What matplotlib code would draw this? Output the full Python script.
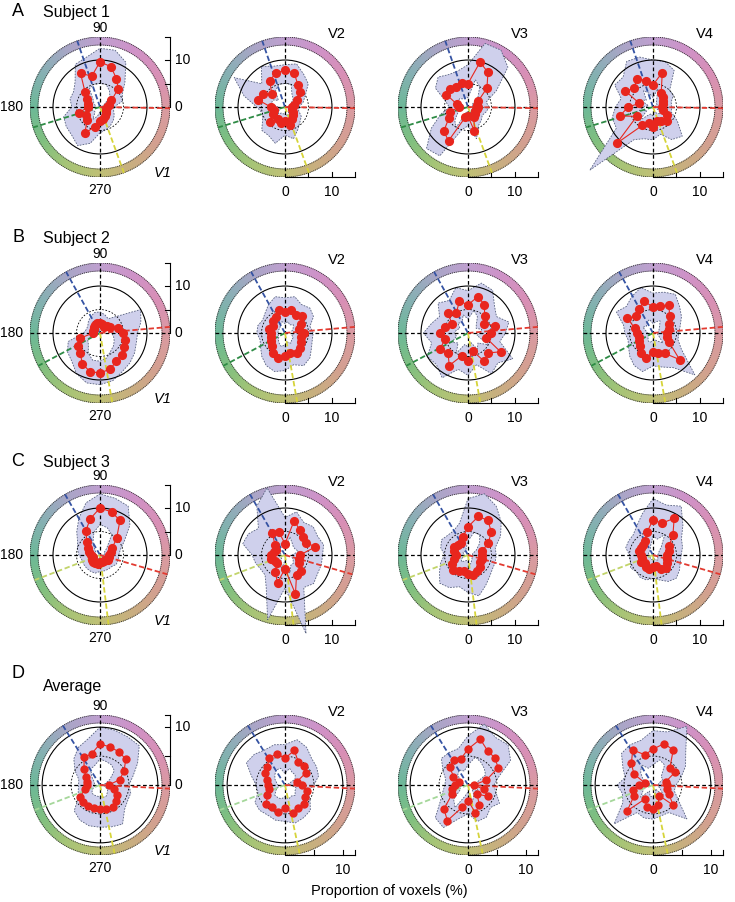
import matplotlib

matplotlib.use("Agg")
import matplotlib.pyplot as plt
import numpy as np
from matplotlib.collections import PatchCollection
from matplotlib.patches import Circle, Polygon, Wedge

plt.rcParams["font.family"] = ["Liberation Sans", "DejaVu Sans"]

W, H = 735, 902

# hue directions of the data (deg), 24 bins
ANGLES = np.arange(24) * 15.0
AREAS = ["V1", "V2", "V3", "V4"]
ROWS = [("A", "Subject 1"), ("B", "Subject 2"), ("C", "Subject 3"), ("D", "Average")]
RMAX = [14.9, 14.9, 14.9, 12.1]

# colour ring stops (deg -> rgb)
RING_DEG = [0, 30, 60, 90, 120, 150, 180, 210, 240, 270, 300, 330, 360]
RING_RGB = ["#d99aa2", "#d88fb6", "#cf92c8", "#bf9fcf", "#a8a6c6", "#86b0b3", "#6db898",
            "#7fbf80", "#a6c476", "#bfc075", "#c9ad80", "#d49f92", "#d99aa2"]

# reference directions per row: blue, green, yellow, red (deg)
DIRS = [[109, 197, 290, -1], [119, 208, 280, 5], [120, 201, 277, -16], [122, 201, 282, -3]]
GREENS = ["#2e8b45", "#2e8b45", "#c2d46a", "#a5d79a"]

# proportion of voxels (%) per hue bin, [V1, V2, V3, V4]
S1_R = [
    [1.5, 2.0, 2.8, 5.5, 7.0, 8.9, 9.6, 6.8, 8.3, 4.5, 3.2, 2.6, 2.5, 4.6, 3.5, 3.8, 6.5, 4.3, 3.0, 2.6, 2.2, 1.8, 1.5, 1.4],
    [1.5, 2.0, 3.0, 4.5, 5.5, 7.5, 7.8, 7.5, 6.5, 4.0, 5.5, 6.0, 3.0, 2.5, 3.0, 4.5, 3.0, 3.5, 3.0, 4.0, 3.0, 2.5, 2.0, 1.5],
    [2.2, 2.0, 2.5, 5.7, 8.5, 9.9, 5.0, 5.2, 5.0, 5.5, 5.3, 2.5, 2.0, 3.9, 4.7, 7.3, 8.3, 2.3, 2.0, 5.3, 2.5, 2.0, 1.8, 2.0],
    [2.0, 2.2, 2.5, 3.0, 3.5, 7.6, 4.7, 5.8, 7.0, 5.6, 6.8, 3.0, 5.3, 7.3, 4.0, 10.9, 4.5, 3.5, 4.2, 3.0, 3.5, 4.2, 3.5, 2.2],
]
S1_HI = [
    [3, 5, 5.5, 7.5, 11, 12.5, 12.5, 11, 10.5, 7.5, 6.5, 6.6, 6, 8, 8.3, 8.5, 9.5, 8, 5.5, 5, 4.5, 4, 3.5, 3],
    [3, 4, 5, 7, 8, 9.5, 9, 9, 10, 7, 12.5, 9, 6, 5, 5.5, 7, 7, 8, 6, 7, 5.5, 4.5, 4, 3],
    [4.5, 4, 7, 12, 14, 14, 9, 8, 8, 9, 8, 5, 4, 6, 9, 12.5, 12, 5, 4, 7, 4.5, 4, 3.5, 4],
    [4, 4, 5, 5, 9, 10, 10, 11, 11.2, 9, 9.4, 7, 8, 9, 9, 19, 8, 7, 7, 6, 8, 8.8, 6, 4],
]
S1_LO = [
    [0.5, 0.5, 1, 3, 4, 5, 5, 5, 4.5, 2, 1.5, 1, 1, 2, 1.5, 1.5, 3, 2, 1, 1, 0.8, 0.6, 0.5, 0.5],
    [0.5, 0.8, 1.5, 2.5, 3, 5, 5, 5, 4, 2, 3, 3, 1.5, 1, 1.5, 2, 1.5, 1.5, 1.5, 2, 1.5, 1, 0.8, 0.5],
    [1, 1, 1, 3, 5, 6, 2, 2, 2, 2.5, 2.5, 1, 1, 2, 2.5, 4, 5, 1, 1, 3, 1, 1, 0.8, 1],
    [0.5, 0.5, 1, 1, 1.5, 4, 2, 3, 4, 2, 3, 1, 2, 3, 1.5, 4, 2, 1.5, 2, 1, 1.5, 2, 1.5, 0.5],
]
S2_R = [
    [5, 4, 2.5, 2, 1.5, 2, 2.2, 2.3, 2, 1.8, 1.5, 1.5, 1.5, 4.5, 5.5, 6, 7.5, 8.5, 8.5, 8, 7, 6.5, 6, 5.5],
    [4, 3, 4, 5, 4.5, 5, 4.5, 5, 4, 3.5, 3, 3.5, 3, 3, 3.5, 4, 5, 5.5, 5, 4.5, 5, 4.5, 4, 3.5],
    [5, 6, 4, 5, 7, 8, 6, 7, 5, 6, 4, 5, 6, 5, 7, 6, 8, 5, 6, 4, 7, 6, 8, 4],
    [3, 3.5, 4, 5, 6.8, 6, 5.5, 7, 6, 5, 6.4, 4, 3.5, 3, 3.5, 4, 5, 5.5, 4, 4.5, 5, 8, 4, 3],
]
S2_HI = [
    [8, 9, 10, 5, 3.5, 4, 4.5, 4.5, 4, 3.5, 3, 3, 3.5, 7, 8, 8.5, 10, 11, 11, 10.5, 9.5, 9, 8.5, 8],
    [6, 5.5, 7, 7.5, 7, 8, 7.5, 8, 7, 6, 5.5, 6, 6, 5.5, 6, 7, 8, 8.5, 8, 7, 8, 7.5, 6.5, 6],
    [8, 9, 7, 8, 10.5, 11, 9, 10, 8, 9, 7, 8, 9.5, 8, 10, 9.5, 11, 8, 9, 7, 10, 9, 11, 7],
    [5.5, 6, 7, 8, 9.5, 9, 8.5, 10, 9, 8, 9, 6.5, 6, 5.5, 6, 7, 8, 8.5, 7, 7.5, 8.5, 12.6, 7, 5.5],
]
S2_LO = [
    [2.5, 2, 1, 0.8, 0.5, 0.8, 0.8, 0.8, 0.8, 0.6, 0.5, 0.5, 0.5, 2, 3, 3.5, 5, 6, 6, 5.5, 4.5, 4, 3.5, 3],
    [2, 1.5, 2, 2.5, 2, 2.5, 2, 2.5, 2, 1.5, 1.5, 1.5, 1.5, 1.5, 1.5, 2, 2.5, 3, 2.5, 2, 2.5, 2, 2, 1.5],
    [2.5, 3, 2, 2.5, 4, 5, 3, 4, 2.5, 3, 2, 2.5, 3, 2.5, 4, 3, 5, 2.5, 3, 2, 4, 3, 5, 2],
    [1, 1.2, 1.5, 2, 3, 2.5, 2, 3, 2.5, 2, 2.5, 1.5, 1.2, 1, 1.2, 1.5, 2, 2, 1.5, 1.5, 2, 3, 1.5, 1],
]
S3_R = [
    [2, 2.5, 3, 5, 8.5, 9.5, 10, 8, 6, 4, 3, 2.5, 2, 1.5, 2, 2, 2, 2, 1.5, 1.5, 1.5, 1.5, 2, 2],
    [3.2, 6.7, 5.2, 5.5, 6.2, 7.6, 2.4, 5.1, 5.4, 3.0, 2.1, 2.5, 3.0, 3.1, 2.5, 2.5, 4.2, 6.1, 2.9, 8.6, 4.9, 4.7, 3.5, 3.0],
    [3, 3, 5, 7, 8.5, 8.5, 6, 4, 3, 3, 3.5, 3, 2.5, 3, 4, 4.5, 4, 3.5, 4, 4.5, 4, 3.5, 3, 3],
    [3, 3.5, 4, 6, 9, 7, 7.5, 5, 3.5, 3, 3, 3, 2.5, 2.5, 3, 2.5, 3, 3, 2.5, 2.5, 3.5, 4, 3.5, 3],
]
S3_HI = [
    [4, 4.5, 6, 9, 12, 12.5, 13, 11.5, 9, 7, 5.5, 5, 4.5, 4, 4, 4, 4, 4, 3.5, 3.5, 3.5, 3.5, 4, 4],
    [8, 8.5, 8, 8.5, 8, 9.5, 8, 14.8, 12, 8, 9, 9.3, 7, 6.5, 6, 6, 8, 14.3, 7, 17.3, 8, 8.6, 8, 8],
    [6, 6, 8, 10, 12, 13.5, 12, 7, 6, 6, 6.5, 6, 5, 6, 7, 8.5, 8, 7, 8, 9, 7.5, 6.5, 6, 6],
    [6, 6.5, 7, 9, 12, 11, 12, 9, 7, 6, 6, 6, 5, 5, 5.5, 5, 5.5, 5.5, 5, 5.5, 6.5, 7, 6.5, 6],
]
S3_LO = [
    [0.8, 1, 1, 2, 5, 6, 6.5, 5, 3, 1.5, 1, 1, 0.8, 0.5, 0.8, 0.8, 0.8, 0.8, 0.5, 0.5, 0.5, 0.5, 0.8, 0.8],
    [1.5, 3, 2.5, 2.5, 3, 4, 1, 2.5, 2.5, 1.2, 1, 1, 1.2, 1.2, 1, 1, 2, 3, 1.2, 4, 2.5, 2.5, 2, 1.5],
    [1, 1, 2, 3.5, 5, 5, 3, 1.5, 1, 1, 1.2, 1, 0.8, 1, 1.5, 2, 1.5, 1.2, 1.5, 2, 1.5, 1.2, 1, 1],
    [1, 1.2, 1.5, 2.5, 5, 3.5, 4, 2, 1.2, 1, 1, 1, 0.8, 0.8, 1, 0.8, 1, 1, 0.8, 0.8, 1.2, 1.5, 1.2, 1],
]
AVG_R = [
    [1.5, 3.5, 4.8, 6.3, 6.6, 6.8, 7.1, 5.6, 5.5, 3.9, 2.8, 2.3, 2.2, 2.6, 4.0, 4.1, 4.2, 4.1, 4.1, 4.3, 4.4, 3.8, 3.3, 2.5],
    [3.0, 2.1, 4.1, 4.7, 4.6, 6.2, 4.6, 5.6, 5.4, 4.4, 4.0, 3.2, 2.9, 2.9, 3.5, 4.6, 4.4, 4.9, 3.9, 5.1, 4.5, 4.6, 4.0, 3.9],
    [1.0, 3.3, 6.0, 6.6, 6.8, 8.2, 6.2, 4.7, 4.9, 4.5, 2.9, 1.7, 2.2, 2.9, 3.2, 5.9, 7.1, 4.0, 2.7, 5.0, 3.9, 2.2, 3.9, 2.8],
    [2.5, 2.3, 4.4, 4.1, 7.0, 7.4, 6.2, 5.4, 7.0, 5.3, 3.8, 1.5, 2.5, 3.6, 3.8, 6.3, 2.8, 4.0, 4.1, 3.5, 2.1, 4.9, 3.2, 2.5],
]
AVG_HI = [
    [5, 5.9, 7.5, 9.6, 9.6, 9.8, 10, 8.2, 7.5, 6.4, 5, 3.8, 3.7, 3.9, 4.3, 6.3, 7, 7.3, 7.3, 7.5, 7.8, 6, 5.5, 5.5],
    [5, 6, 6.3, 6.5, 7.5, 8.1, 7, 7.2, 7, 7.5, 7.7, 6, 5, 4.8, 6, 6.2, 6, 6.3, 6.3, 6.8, 6.5, 6.2, 5, 4.2],
    [4.5, 5.5, 8.5, 9.8, 9.5, 10.9, 8.5, 6.5, 6.5, 6.5, 5, 4, 4, 4.5, 5.5, 8, 8.5, 6, 5, 6.5, 6.4, 5.5, 6.3, 5],
    [4, 5, 6.5, 8, 11.7, 9.5, 9.4, 8, 8, 7.7, 6, 5, 6.2, 5.5, 6, 9.5, 5.5, 5.9, 5.9, 5.5, 5.5, 8.3, 5, 3.8],
]
AVG_LO = [
    [0.3, 1, 2, 3.5, 4, 4.2, 4.5, 3.5, 3.2, 2, 1.2, 1, 1, 1, 1.5, 2, 2, 2, 2, 2.2, 2.2, 1.8, 1.5, 0.8],
    [1, 0.5, 2, 2.5, 2.5, 3, 2, 3, 3, 2.5, 2, 1.5, 1.2, 1.2, 1.8, 2.5, 2.5, 2.5, 2, 2.5, 2.2, 2.5, 2, 2],
    [0.3, 1.5, 3.5, 4, 4.5, 5, 3.5, 2.5, 3, 2.5, 1.5, 0.8, 1, 1.5, 1.5, 3.5, 4.5, 2, 1.2, 3, 2, 1, 2, 1.5],
    [1, 1, 2, 2, 4, 4.5, 3.5, 3, 4, 3, 2, 0.5, 1, 2, 2, 3, 1.2, 2, 2, 1.5, 0.8, 2.5, 1.5, 1],
]
DATA = [(S1_R, S1_HI, S1_LO), (S2_R, S2_HI, S2_LO), (S3_R, S3_HI, S3_LO), (AVG_R, AVG_HI, AVG_LO)]

ROW_Y = [107, 333, 555, 785]
COL_X = [100, 285, 468, 653]
HALF = 70  # ring outer radius in px

RED = "#e8261e"
BAND = "#cfd0ec"
BAND_EDGE = "#56607e"
BLUE = "#3553a3"
YELLOW = "#d6d43a"
LINE_RED = "#e23a30"


def ring_color(deg):
    rgb = np.array([matplotlib.colors.to_rgb(c) for c in RING_RGB])
    return np.stack([np.interp(deg, RING_DEG, rgb[:, i]) for i in range(3)], axis=1)


def xy(r, deg):
    t = np.deg2rad(deg)
    return np.asarray(r) * np.cos(t), np.asarray(r) * np.sin(t)


def draw_panel(fig, row, col):
    cx, cy = COL_X[col], ROW_Y[row]
    rmax = RMAX[row]
    k = rmax / HALF  # data units per pixel
    ax = fig.add_axes([(cx - HALF) / W, 1 - (cy + HALF) / H, 2 * HALF / W, 2 * HALF / H])
    ax.set_xlim(-rmax, rmax)
    ax.set_ylim(-rmax, rmax)
    ax.axis("off")

    # colour ring
    steps = np.arange(0, 360, 2)
    wedges = [Wedge((0, 0), rmax, a, a + 2.6, width=8 * k) for a in steps]
    cols = ring_color(steps + 1)
    ax.add_collection(PatchCollection(wedges, facecolors=cols, edgecolors=cols, linewidths=0.3))
    for rr in (rmax, rmax - 8 * k):
        ax.add_patch(Circle((0, 0), rr, fill=False, ls=(0, (1, 1)), lw=0.7, ec="#333333"))

    r_all, hi_all, lo_all = DATA[row]
    hx, hy = xy(hi_all[col], ANGLES)
    ax.add_patch(Polygon(np.c_[hx, hy], closed=True, fc=BAND, ec=BAND_EDGE, ls=(0, (2, 1.5)),
                         lw=0.6, clip_on=False, zorder=2))
    lx, ly = xy(lo_all[col], ANGLES)
    ax.add_patch(Polygon(np.c_[lx, ly], closed=True, fc="white", ec=BAND_EDGE, ls=(0, (2, 1.5)),
                         lw=0.6, zorder=2))

    ax.add_patch(Circle((0, 0), 10, fill=False, lw=0.8, ec="black", zorder=3))
    ax.add_patch(Circle((0, 0), 5, fill=False, lw=0.6, ls=(0, (2, 2)), ec="black", zorder=3))
    ax.plot([-rmax, rmax], [0, 0], color="black", ls=(0, (3, 2)), lw=0.9, zorder=3)
    ax.plot([0, 0], [-rmax, rmax], color="black", ls=(0, (3, 2)), lw=0.9, zorder=3)

    for ang, c in zip(DIRS[row], [BLUE, GREENS[row], YELLOW, LINE_RED]):
        ex, ey = xy(rmax, ang)
        ax.plot([0, ex], [0, ey], color=c, ls=(0, (3, 1.5)), lw=1.3, zorder=4)

    px, py = xy(r_all[col], ANGLES)
    ax.plot(np.r_[px, px[0]], np.r_[py, py[0]], color=RED, lw=0.8, zorder=5)
    ax.plot(px, py, "o", color=RED, ms=6.6 if row < 3 else 6.0, mec="none", zorder=6)

    tick = 5 * k
    if col == 0:
        ax.plot([rmax, rmax], [0, rmax], color="black", lw=0.8, clip_on=False)
        for v in (5, 10, rmax):
            ax.plot([rmax - tick, rmax], [v, v], color="black", lw=0.8, clip_on=False)
        for v, s in ((10, "10"), (0, "0")):
            ax.text(rmax + 5 * k, v, s, ha="left", va="center", fontsize=10)
        ax.text(0, 79 * k, "90", ha="center", va="center", fontsize=10)
        ax.text(-77 * k, 0, "180", ha="right", va="center", fontsize=10)
        ax.text(0, -83 * k, "270", ha="center", va="center", fontsize=10)
        ax.text(63 * k, -66 * k, "V1", ha="center", va="center", fontsize=10.5, style="italic")
    else:
        ax.plot([0, rmax], [-rmax, -rmax], color="black", lw=0.8, clip_on=False)
        for v in (5, 10, rmax):
            ax.plot([v, v], [-rmax, -rmax + tick], color="black", lw=0.8, clip_on=False)
        for v, s in ((0, "0"), (10, "10")):
            ax.text(v, -rmax - 15 * k, s, ha="center", va="center", fontsize=10)
        ax.text(52 * k, 73 * k, AREAS[col], ha="center", va="center", fontsize=10.5)


def main():
    fig = plt.figure(figsize=(W / 100, H / 100), dpi=100)
    for row in range(4):
        for col in range(4):
            draw_panel(fig, row, col)

    letter_y = [12, 238, 461, 673]
    title_y = [12, 238, 462, 687]
    for (letter, title), ly, ty in zip(ROWS, letter_y, title_y):
        fig.text(18 / W, 1 - ly / H, letter, ha="center", va="center", fontsize=13)
        fig.text(43 / W, 1 - ty / H, title, ha="left", va="center", fontsize=11.5)

    fig.text(389 / W, 1 - 891 / H, "Proportion of voxels (%)", ha="center", va="center", fontsize=10.5)
    fig.savefig("out.png", dpi=100)
    plt.close(fig)


if __name__ == "__main__":
    main()
